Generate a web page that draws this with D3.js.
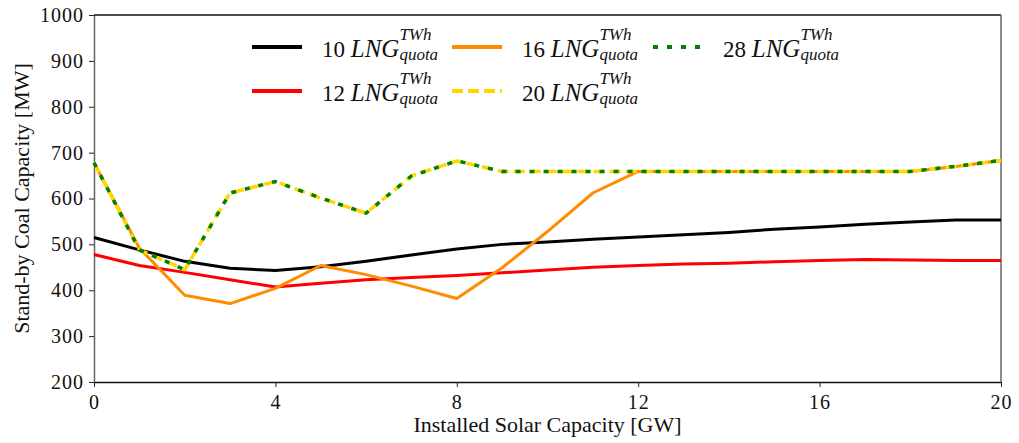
<!DOCTYPE html>
<html>
<head>
<meta charset="utf-8">
<script src="https://cdn.jsdelivr.net/npm/d3@7"></script>
<style>
  html, body { margin: 0; padding: 0; background: #fff; }
  svg { display: block; }
  text { fill: #111; }
</style>
</head>
<body>
<svg id="chart" width="1019" height="443"></svg>
<script>
// Installed solar capacity [GW]
const solar = [0,1,2,3,4,5,6,7,8,9,10,11,12,13,14,15,16,17,18,19,20];

// Stand-by coal capacity [MW] per LNG quota
const lng10 = [515,488,463,448,443,451,463,477,490,500,505,511,516,521,526,533,538,544,549,553,553];
const lng12 = [478,454,439,423,407,415,423,428,432,438,444,450,454,457,459,462,465,467,466,465,465];
const lng16 = [678,492,389,371,404,454,434,409,382,449,528,612,659,659,659,659,659,659,659,670,683];
const lng20 = [678,488,445,612,637,601,568,649,682,659,659,659,659,659,659,659,659,659,659,670,683];
const lng28 = [678,488,445,612,637,601,568,649,682,659,659,659,659,659,659,659,659,659,659,670,683];

const xTicks = [0,4,8,12,16,20];
const yTicks = [200,300,400,500,600,700,800,900,1000];

const series = [
  { quota: "10", values: lng10, color: "#000000", dash: null,   width: 3 },
  { quota: "12", values: lng12, color: "#ff0000", dash: null,   width: 3 },
  { quota: "16", values: lng16, color: "#ff8c00", dash: null,   width: 3 },
  { quota: "20", values: lng20, color: "#ffd700", dash: "11,5", width: 3.5 },
  { quota: "28", values: lng28, color: "#008000", dash: "5,9",  width: 3.5 }
];

const SERIF = "'Liberation Serif', 'DejaVu Serif', serif";

const svg = d3.select("#chart");
const margin = { left: 94, right: 18, top: 15, bottom: 61 };
const W = 1019, H = 443;

const x = d3.scaleLinear().domain([0, 20]).range([margin.left, W - margin.right]);
const y = d3.scaleLinear().domain([200, 1000]).range([H - margin.bottom, margin.top]);

// Axes
const xAxis = d3.axisBottom(x).tickValues(xTicks).tickFormat(d3.format("d")).tickSize(5).tickSizeOuter(0);
const yAxis = d3.axisLeft(y).tickValues(yTicks).tickFormat(d3.format("d")).tickSize(5).tickSizeOuter(0);

const gx = svg.append("g").attr("transform", `translate(0,${y(200)})`).call(xAxis);
const gy = svg.append("g").attr("transform", `translate(${x(0)},0)`).call(yAxis);

[gx, gy].forEach(g => {
  g.selectAll("text")
    .style("font-family", SERIF)
    .style("font-size", "20px")
    .style("letter-spacing", "1px")
    .attr("fill", "#111");
  g.selectAll("line").attr("stroke", "#222");
});
gx.select(".domain").attr("stroke", "#111").attr("stroke-width", 1.5);
gy.select(".domain").attr("stroke", "#666").attr("stroke-width", 1.5);
gx.selectAll("text").attr("dy", "0.95em");
gy.selectAll("text").attr("dx", "-0.1em");

// Frame: top and right edges
svg.append("line").attr("x1", x(0)).attr("x2", x(20)).attr("y1", y(1000)).attr("y2", y(1000))
  .attr("stroke", "#111").attr("stroke-width", 1.5);
svg.append("line").attr("x1", x(20)).attr("x2", x(20)).attr("y1", y(1000)).attr("y2", y(200))
  .attr("stroke", "#666").attr("stroke-width", 1.5);

// Axis titles
svg.append("text")
  .attr("x", (x(0) + x(20)) / 2).attr("y", 432)
  .attr("text-anchor", "middle").attr("font-size", 22).attr("font-family", SERIF)
  .text("Installed Solar Capacity [GW]");

svg.append("text")
  .attr("transform", `translate(29,${(y(200) + y(1000)) / 2}) rotate(-90)`)
  .attr("text-anchor", "middle").attr("font-size", 22).attr("font-family", SERIF)
  .text("Stand-by Coal Capacity [MW]");

// Series lines
const line = d3.line().x((d, i) => x(solar[i])).y(d => y(d));
const plot = svg.append("g");
series.forEach(s => {
  plot.append("path")
    .datum(s.values)
    .attr("d", line)
    .attr("fill", "none")
    .attr("stroke", s.color)
    .attr("stroke-width", s.width)
    .attr("stroke-dasharray", s.dash)
    .attr("stroke-linejoin", "round");
});

// Legend
const legendItems = [
  { s: series[0], lx: 252, ly: 47 },
  { s: series[2], lx: 452, ly: 47 },
  { s: series[4], lx: 653, ly: 47 },
  { s: series[1], lx: 252, ly: 91 },
  { s: series[3], lx: 452, ly: 91 }
];
const legend = svg.append("g").attr("font-family", SERIF);
legendItems.forEach(it => {
  legend.append("line")
    .attr("x1", it.lx).attr("x2", it.lx + 50)
    .attr("y1", it.ly).attr("y2", it.ly)
    .attr("stroke", it.s.color)
    .attr("stroke-width", 4)
    .attr("stroke-dasharray", it.s.dash);
  const base = it.lx + 70;
  const t = legend.append("text")
    .attr("x", base).attr("y", it.ly + 10)
    .attr("font-size", 23);
  t.append("tspan").text(it.s.quota + " ");
  t.append("tspan").attr("font-style", "italic").attr("font-size", 25).text("LNG");
  const w = t.node().getComputedTextLength();
  legend.append("text")
    .attr("x", base + w).attr("y", it.ly - 7)
    .attr("font-size", 17).attr("font-style", "italic")
    .text("TWh");
  legend.append("text")
    .attr("x", base + w).attr("y", it.ly + 13)
    .attr("font-size", 17).attr("font-style", "italic")
    .text("quota");
});
</script>
</body>
</html>
